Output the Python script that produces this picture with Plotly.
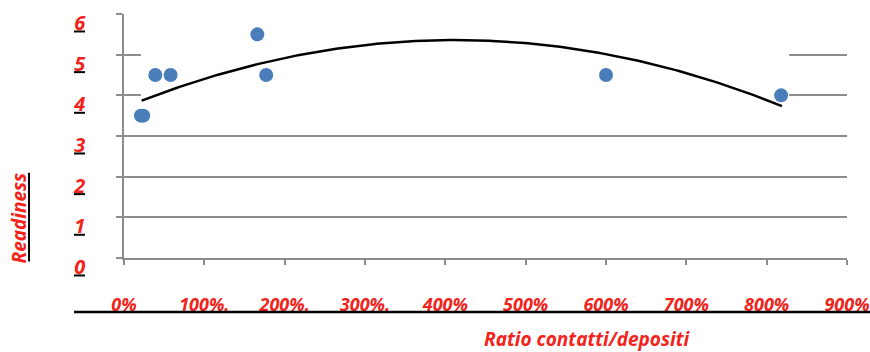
import numpy as np
import plotly.graph_objects as go

# Ratio contatti/depositi (in units of 100%) and readiness score
ratio = [0.21, 0.24, 0.39, 0.58, 1.66, 1.77, 6.00, 8.18]
readiness = [3.5, 3.5, 4.5, 4.5, 5.5, 4.5, 4.5, 4.0]

# polynomial trend line (order 2): coefficients high -> low, and its x span
trend_coef = [-0.098, 0.8075, 3.696]
trend_span = [0.22, 8.19]

x_tickvals = [0, 1, 2, 3, 4, 5, 6, 7, 8, 9]
x_ticktext = ["0%", "100%.", "200%.", "300%.", "400%", "500%", "600%", "700%", "800%", "900%"]
y_tickvals = [0, 1, 2, 3, 4, 5, 6]

RED = "#F2231A"
BLUE = "#4A7EBB"
GRID = "#8C8C8C"
FONT = "Noto Sans"

# plot area size in px (used for paper-coordinate decorations)
L, R, T, B = 124, 23, 14, 93.5
PW, PH = 870 - L - R, 352 - T - B

tx = np.linspace(trend_span[0], trend_span[1], 200)
ty = np.polyval(trend_coef, tx)

fig = go.Figure()
fig.add_trace(go.Scatter(
    x=tx, y=ty, mode="lines",
    line=dict(color="black", width=2.5), hoverinfo="skip", showlegend=False,
))
fig.add_trace(go.Scatter(
    x=ratio, y=readiness, mode="markers",
    marker=dict(color=BLUE, size=14), showlegend=False,
))

shapes = []
# white backing behind the trend line
shapes.append(dict(
    type="rect", layer="between", xref="x", yref="y",
    x0=tx.min() - 0.01, x1=tx.max() + 0.09,
    y0=ty.min() - 0.05, y1=ty.max() + 0.06,
    fillcolor="white", line=dict(width=0),
))
# black underlines below the y tick labels
for v in y_tickvals:
    yp = (v * PH / 6 - 17.5) / PH
    shapes.append(dict(
        type="line", xref="paper", yref="paper",
        x0=-50 / PW, x1=-39 / PW, y0=yp, y1=yp,
        line=dict(color="black", width=2),
    ))
# rule under the x tick labels
shapes.append(dict(
    type="line", xref="paper", yref="paper",
    x0=-50 / PW, x1=1.04, y0=-54 / PH, y1=-54 / PH,
    line=dict(color="black", width=2.5),
))
# rule beside the y axis title
shapes.append(dict(
    type="line", xref="paper", yref="paper",
    x0=-95 / PW, x1=-95 / PW, y0=(PH - 262 + T) / PH, y1=(PH - 173 + T) / PH,
    line=dict(color="black", width=2),
))

label_font = dict(family=FONT, size=19, color=RED, weight="bold", style="italic")

fig.update_layout(
    width=870, height=352,
    margin=dict(l=L, r=R, t=T, b=B),
    paper_bgcolor="white", plot_bgcolor="white",
    font=dict(family=FONT, color=RED),
    xaxis=dict(
        range=[0, 9], tickvals=x_tickvals, ticktext=x_ticktext,
        showgrid=False, zeroline=False, automargin=False,
        showline=True, linecolor=GRID, linewidth=1.5,
        ticks="outside", ticklen=5, tickwidth=1.5, tickcolor=GRID,
        tickfont=dict(family=FONT, size=18, color=RED, weight="bold", style="italic"),
        ticklabelstandoff=25, ticklabeloverflow="allow",
    ),
    yaxis=dict(
        range=[0, 6.0001], tickvals=y_tickvals,
        showgrid=True, gridcolor=GRID, gridwidth=1.5, zeroline=False, automargin=False,
        showline=True, linecolor=GRID, linewidth=1.5,
        ticks="outside", ticklen=6, tickwidth=1.5, tickcolor=GRID,
        tickfont=dict(family=FONT, size=20, color=RED, weight="bold", style="italic"),
        ticklabelstandoff=27, ticklabelshift=9,
    ),
    shapes=shapes,
    annotations=[
        dict(text="Ratio contatti/depositi", xref="paper", yref="paper",
             x=(587 - L) / PW, y=(PH + T - 340) / PH,
             xanchor="center", yanchor="middle", showarrow=False,
             font=label_font),
        dict(text="Readiness", xref="paper", yref="paper", textangle=-90,
             x=(19 - L) / PW, y=(PH + T - 218) / PH,
             xanchor="center", yanchor="middle", showarrow=False,
             font=label_font),
    ],
)

fig.write_html("out.html")
